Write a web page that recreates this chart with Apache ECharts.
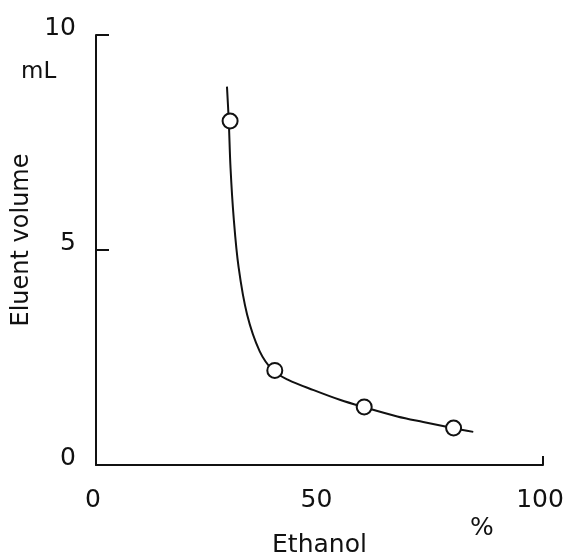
<!DOCTYPE html>
<html>
<head>
<meta charset="utf-8">
<script src="https://cdn.jsdelivr.net/npm/echarts@6/dist/echarts.min.js"></script>
<style>
  html, body { margin: 0; padding: 0; background: #fff; }
  #chart { width: 565px; height: 555px; }
</style>
</head>
<body>
<div id="chart"></div>
<script>
// measured points: ethanol % vs eluent volume (mL)
const ethanol = [30, 40, 60, 80]
const volume = [8.0, 2.2, 1.35, 0.86]

// fitted curve
const curveX = [29.3, 29.7, 30.1, 30.8, 31.9, 33.8, 36.6, 39.6, 43.0, 48.7, 54.7, 59.8, 67.4, 73.2, 79.8, 84.4]
const curveY = [8.8, 8.0, 6.9, 5.75, 4.6, 3.5, 2.65, 2.2, 1.98, 1.74, 1.51, 1.35, 1.13, 1.0, 0.86, 0.77]

const xTicks = [0, 50, 100]
const yTicks = [0, 5, 10]

const ink = '#111'
const font = 'DejaVu Sans'

const chart = echarts.init(document.getElementById('chart'))

chart.setOption({
  animation: false,
  grid: { left: 96, right: 22, top: 35, bottom: 90, outerBoundsMode: 'none' },
  xAxis: {
    type: 'value',
    min: 0,
    max: 100,
    interval: 50,
    name: 'Ethanol',
    nameLocation: 'middle',
    nameGap: 68,
    nameTextStyle: { color: ink, fontFamily: font, fontSize: 25 },
    axisLine: { lineStyle: { color: ink, width: 2 } },
    axisTick: { show: true, inside: true, length: 9, customValues: [100], lineStyle: { color: ink, width: 2 } },
    axisLabel: {
      customValues: xTicks,
      color: ink, fontFamily: font, fontSize: 25, margin: 23,
      padding: [0, 6, 0, 0]
    },
    splitLine: { show: false }
  },
  yAxis: {
    type: 'value',
    min: 0,
    max: 10,
    interval: 5,
    name: 'Eluent volume',
    nameLocation: 'middle',
    nameRotate: 90,
    nameGap: 62,
    nameTextStyle: { color: ink, fontFamily: font, fontSize: 24, padding: [0, 0, 0, 20] },
    axisLine: { lineStyle: { color: ink, width: 2 } },
    axisTick: { show: true, inside: true, length: 13, customValues: [5, 10], lineStyle: { color: ink, width: 2 } },
    axisLabel: {
      customValues: yTicks,
      color: ink, fontFamily: font, fontSize: 25, margin: 20,
      verticalAlign: 'bottom', lineHeight: 14
    },
    splitLine: { show: false }
  },
  graphic: [
    { type: 'text', left: 21, top: 61, style: { text: 'mL', fill: ink, font: '23px "DejaVu Sans"' } },
    { type: 'text', left: 470, top: 516, style: { text: '%', fill: ink, font: '25px "DejaVu Sans"' } }
  ],
  series: [
    {
      type: 'line',
      data: curveX.map((x, i) => [x, curveY[i]]),
      smooth: 0.35,
      symbol: 'none',
      lineStyle: { color: ink, width: 2 },
      silent: true,
      z: 2
    },
    {
      type: 'scatter',
      data: ethanol.map((x, i) => [x, volume[i]]),
      symbol: 'circle',
      symbolSize: 15,
      itemStyle: { color: '#fff', opacity: 1, borderColor: ink, borderWidth: 2 },
      z: 3
    }
  ]
})
</script>
</body>
</html>
